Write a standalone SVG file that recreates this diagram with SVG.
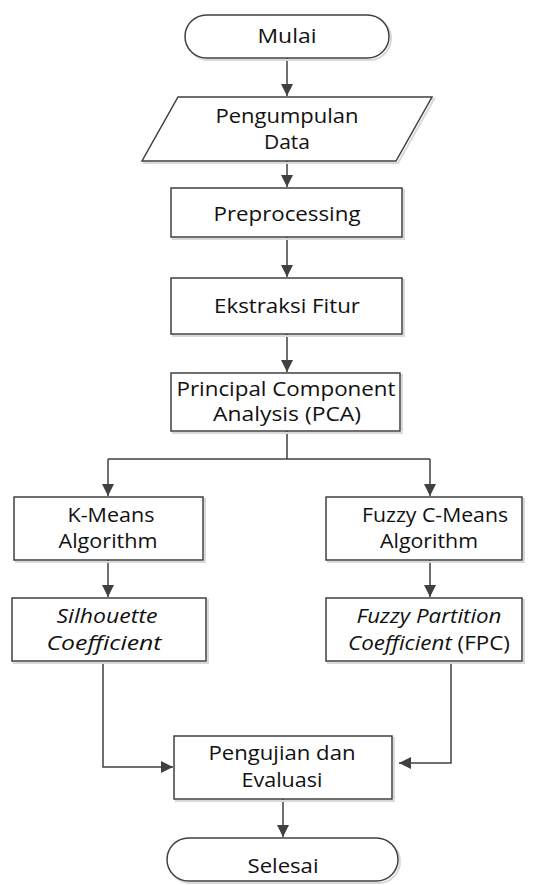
<svg xmlns="http://www.w3.org/2000/svg" width="549" height="885" viewBox="0 0 549 885">
<style>
.s{fill:#fff;stroke:#404040;stroke-width:1.5}
.sh{fill:none;stroke:#d9d9d9;stroke-width:2}
.t{font-family:"Open Sans","Noto Sans",sans-serif;font-size:20px;fill:#111;text-anchor:middle}
.i{font-style:italic}
.c{fill:none;stroke:#404040;stroke-width:1.5}
</style>
<defs>
<marker id="a" markerWidth="12" markerHeight="12" refX="10" refY="5" orient="auto" markerUnits="userSpaceOnUse" viewBox="0 0 10 10">
<path d="M0,0 L10,5 L0,10 z" fill="#404040"/>
</marker>
</defs>
<g id="connectors">
<path class="c" d="M287,58 V96" marker-end="url(#a)"/>
<path class="c" d="M287,161 V187" marker-end="url(#a)"/>
<path class="c" d="M287,237 V277" marker-end="url(#a)"/>
<path class="c" d="M287,334 V372" marker-end="url(#a)"/>
<path class="c" d="M287,431 V459 M108,459 H430"/>
<path class="c" d="M108,459 V496" marker-end="url(#a)"/>
<path class="c" d="M430,459 V496" marker-end="url(#a)"/>
<path class="c" d="M108,560 V597" marker-end="url(#a)"/>
<path class="c" d="M430,560 V597" marker-end="url(#a)"/>
<path class="c" d="M103,662 V767 H173" marker-end="url(#a)"/>
<path class="c" d="M451,662 V763 H399" marker-end="url(#a)"/>
<path class="c" d="M283,799 V837" marker-end="url(#a)"/>
</g>
<g id="mulai">
<rect class="sh" x="187" y="17" width="204" height="43" rx="21.5"/>
<rect class="s" x="185" y="15" width="204" height="43" rx="21.5"/>
<text class="t" x="287" y="43" textLength="59" lengthAdjust="spacingAndGlyphs">Mulai</text>
</g>
<g id="pengumpulan">
<polygon class="sh" points="180,99 434,99 398,163 144,163"/>
<polygon class="s" points="178,97 432,97 396,161 142,161"/>
<text class="t" x="287" y="123" textLength="143" lengthAdjust="spacingAndGlyphs">Pengumpulan</text>
<text class="t" x="287" y="149" textLength="46" lengthAdjust="spacingAndGlyphs">Data</text>
</g>
<g id="preprocessing">
<rect class="sh" x="173" y="190" width="231" height="49"/>
<rect class="s" x="171" y="188" width="231" height="49"/>
<text class="t" x="287" y="221" textLength="147" lengthAdjust="spacingAndGlyphs">Preprocessing</text>
</g>
<g id="ekstraksi">
<rect class="sh" x="173" y="280" width="231" height="56"/>
<rect class="s" x="171" y="278" width="231" height="56"/>
<text class="t" x="287" y="313" textLength="146" lengthAdjust="spacingAndGlyphs">Ekstraksi Fitur</text>
</g>
<g id="pca">
<rect class="sh" x="173" y="375" width="229" height="58"/>
<rect class="s" x="171" y="373" width="229" height="58"/>
<text class="t" x="286" y="396" textLength="219" lengthAdjust="spacingAndGlyphs">Principal Component</text>
<text class="t" x="287" y="421" textLength="148" lengthAdjust="spacingAndGlyphs">Analysis (PCA)</text>
</g>
<g id="kmeans">
<rect class="sh" x="16" y="499" width="189" height="63"/>
<rect class="s" x="14" y="497" width="189" height="63"/>
<text class="t" x="111" y="522" textLength="87" lengthAdjust="spacingAndGlyphs">K-Means</text>
<text class="t" x="108" y="548" textLength="99" lengthAdjust="spacingAndGlyphs">Algorithm</text>
</g>
<g id="fcm">
<rect class="sh" x="328" y="499" width="196" height="63"/>
<rect class="s" x="326" y="497" width="196" height="63"/>
<text class="t" x="435" y="522" textLength="146" lengthAdjust="spacingAndGlyphs">Fuzzy C-Means</text>
<text class="t" x="429" y="548" textLength="98" lengthAdjust="spacingAndGlyphs">Algorithm</text>
</g>
<g id="silhouette">
<rect class="sh" x="14" y="600" width="194" height="63"/>
<rect class="s" x="12" y="598" width="194" height="63"/>
<text class="t i" x="107" y="623" textLength="101" lengthAdjust="spacingAndGlyphs">Silhouette</text>
<text class="t i" x="104" y="650" textLength="115" lengthAdjust="spacingAndGlyphs">Coefficient</text>
</g>
<g id="fpc">
<rect class="sh" x="328" y="600" width="196" height="63"/>
<rect class="s" x="326" y="598" width="196" height="63"/>
<text class="t i" x="429" y="623" textLength="145" lengthAdjust="spacingAndGlyphs">Fuzzy Partition</text>
<text class="t" x="429" y="650" textLength="162" lengthAdjust="spacingAndGlyphs"><tspan class="i">Coefficient</tspan> (FPC)</text>
</g>
<g id="pengujian">
<rect class="sh" x="176" y="738" width="218" height="63"/>
<rect class="s" x="174" y="736" width="218" height="63"/>
<text class="t" x="282" y="760" textLength="147" lengthAdjust="spacingAndGlyphs">Pengujian dan</text>
<text class="t" x="282" y="787" textLength="81" lengthAdjust="spacingAndGlyphs">Evaluasi</text>
</g>
<g id="selesai">
<rect class="sh" x="169" y="840" width="231" height="43" rx="21.5"/>
<rect class="s" x="167" y="838" width="231" height="43" rx="21.5"/>
<text class="t" x="283" y="873" textLength="71" lengthAdjust="spacingAndGlyphs">Selesai</text>
</g>
</svg>
